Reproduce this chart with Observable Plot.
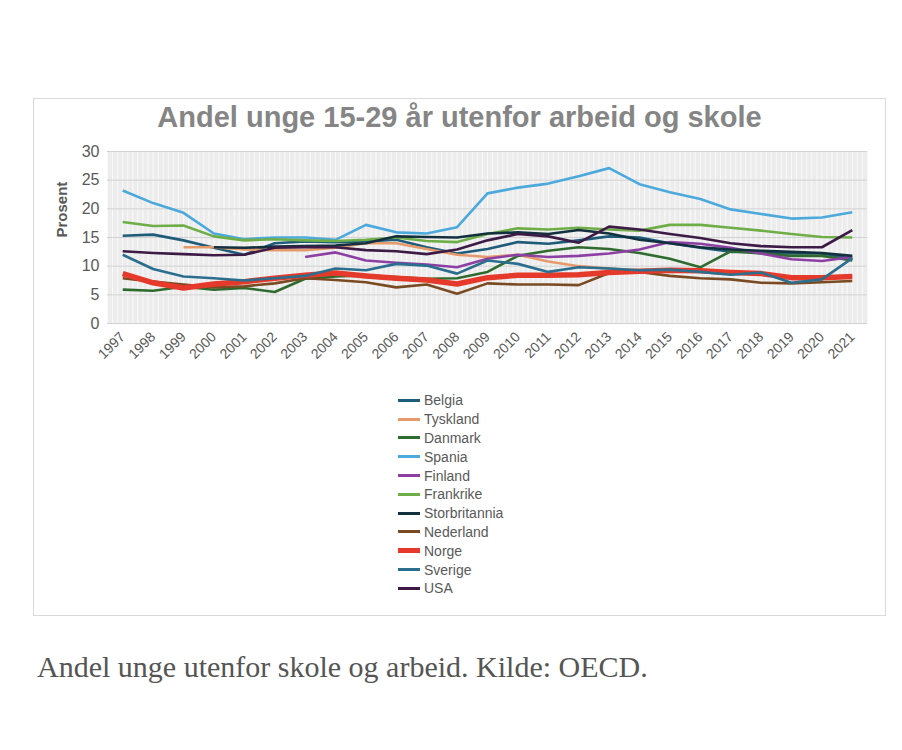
<!DOCTYPE html>
<html><head><meta charset="utf-8">
<script src="https://cdn.jsdelivr.net/npm/d3@7"></script>
<script src="https://cdn.jsdelivr.net/npm/@observablehq/plot@0.6"></script>
<style>
body{margin:0;background:#fff;width:902px;height:750px;position:relative;font-family:"Liberation Sans",Arial,sans-serif;}
#box{position:absolute;left:33px;top:98px;width:851px;height:516px;border:1px solid #dadada;}
#title{position:absolute;left:0;width:100%;top:2px;text-align:center;font-weight:bold;font-size:29px;line-height:32px;color:#858585;}
#chart{position:absolute;left:0;top:41px;}
#legend{position:absolute;left:364px;top:292px;}
.row{height:18.8px;display:flex;align-items:center;font-size:14px;color:#595959;}
.sw{width:22px;margin-right:4px;}
#caption{position:absolute;left:37px;top:650px;font-family:"Liberation Serif",serif;font-size:30px;line-height:34px;color:#555;}
</style></head>
<body>
<div id="box"><div id="title">Andel unge 15-29 år utenfor arbeid og skole</div><div id="chart"></div><div id="legend"></div></div>
<div id="caption">Andel unge utenfor skole og arbeid. Kilde: OECD.</div>
<script>
const years = d3.range(1997, 2022);
const yTicks = [0, 5, 10, 15, 20, 25, 30];
const countries = ["Belgia","Tyskland","Danmark","Spania","Finland","Frankrike","Storbritannia","Nederland","Norge","Sverige","USA"];
const colors = ["#1f5c7a","#e69a6b","#2f6b2f","#4ba9dc","#8e3fa3","#6fae47","#12303d","#7a4a22","#e53a2b","#2b6e8e","#3d1b46"];
const Belgia = [15.3,15.5,14.5,13.2,12.0,14.0,14.3,14.2,14.3,14.6,13.3,12.2,13.0,14.2,13.9,14.5,15.2,15.0,14.0,13.2,12.5,12.5,12.2,12.2,11.3];
const Tyskland = [null,null,13.3,13.3,12.9,12.8,12.8,13.2,14.0,14.0,13.0,12.0,11.6,12.0,10.8,10.0,9.6,9.3,9.0,9.2,9.0,8.6,8.1,7.9,8.3];
const Danmark = [5.9,5.7,6.4,5.9,6.2,5.5,7.8,8.2,8.4,8.1,7.8,7.9,9.0,11.8,12.7,13.3,13.0,12.3,11.3,9.8,12.6,12.2,11.8,11.8,11.0];
const Spania = [23.2,21.0,19.3,15.7,14.7,15.0,15.0,14.6,17.2,15.9,15.7,16.8,22.7,23.7,24.4,25.7,27.1,24.3,22.9,21.7,19.9,19.1,18.3,18.5,19.4];
const Finland = [null,null,null,null,null,null,11.6,12.4,11.0,10.6,10.3,9.8,11.3,12.0,11.6,11.8,12.2,12.9,14.2,13.9,13.2,12.2,11.2,10.9,11.6];
const Frankrike = [17.7,17.0,17.1,15.2,14.5,14.7,14.5,14.4,14.6,15.0,14.4,14.2,15.6,16.6,16.4,16.7,16.4,16.2,17.2,17.2,16.7,16.2,15.6,15.1,15.0];
const Storbritannia = [null,null,null,13.3,13.2,13.4,13.5,13.6,14.0,15.2,15.1,15.0,15.7,15.9,15.6,16.3,15.7,14.6,14.0,13.3,12.9,12.7,12.5,12.3,11.8];
const Nederland = [7.9,7.3,6.8,6.3,6.5,7.0,7.9,7.6,7.2,6.3,6.8,5.2,7.0,6.8,6.8,6.7,8.8,9.0,8.3,7.9,7.7,7.1,7.0,7.2,7.4];
const Norge = [8.7,7.1,6.2,6.9,7.3,7.9,8.4,8.8,8.3,7.9,7.6,6.9,8.0,8.4,8.4,8.5,8.9,9.1,9.3,9.2,8.9,8.7,8.0,8.0,8.2];
const Sverige = [12.0,9.5,8.2,7.9,7.5,7.9,8.3,9.6,9.3,10.4,10.1,8.7,11.0,10.4,9.0,9.8,9.6,9.3,9.4,9.0,8.5,8.9,7.1,7.7,11.4];
const USA = [12.6,12.3,12.1,11.9,12.0,13.2,13.3,13.3,12.8,12.6,12.1,12.9,14.5,15.6,15.2,14.1,16.9,16.4,15.6,14.9,14.0,13.5,13.3,13.3,16.3];

const series = {Belgia,Tyskland,Danmark,Spania,Finland,Frankrike,Storbritannia,Nederland,Norge,Sverige,USA};
const data = countries.flatMap(c => series[c].map((v, i) => ({country: c, year: years[i], value: v})).filter(d => d.value != null));
const fineGrid = d3.range(0, 151).map(i => 1996.5 + i / 6);

const plot = Plot.plot({
  width: 850, height: 238,
  marginLeft: 73, marginRight: 17, marginTop: 11, marginBottom: 55,
  style: {fontFamily: "Liberation Sans, Arial, sans-serif", fontSize: "13px", color: "#595959", background: "transparent"},
  x: {type: "linear", domain: [1996.5, 2021.5]},
  y: {domain: [0, 30]},
  color: {domain: countries, range: colors},
  marks: [
    Plot.frame({fill: "#ececec", stroke: null}),
    Plot.gridX({ticks: fineGrid, stroke: "#fafafa", strokeOpacity: 1}),
    Plot.gridY({ticks: yTicks, stroke: "#d2d2d2", strokeOpacity: 1}),
    Plot.axisY({ticks: yTicks, tickSize: 0, tickPadding: 8, fontSize: 16, label: null}),
    Plot.axisX({ticks: years, tickFormat: d => String(d), tickRotate: -45, tickSize: 0, tickPadding: 11, label: null, fontSize: 14}),
    Plot.text(["Prosent"], {frameAnchor: "left", dx: -45, rotate: -90, fontWeight: "bold", fontSize: 15, fill: "#595959"}),
    ...countries.map(c => Plot.line(data.filter(d => d.country === c), {
      x: "year", y: "value", stroke: "country",
      strokeWidth: c === "Norge" ? 5.5 : 2.6, strokeLinejoin: "round", strokeLinecap: "butt"
    }))
  ]
});
document.getElementById("chart").appendChild(plot);

const legend = document.getElementById("legend");
countries.forEach((c, i) => {
  const row = document.createElement("div");
  row.className = "row";
  const sw = document.createElement("div");
  sw.className = "sw";
  sw.style.height = (c === "Norge" ? 5 : 3) + "px";
  sw.style.background = colors[i];
  row.appendChild(sw);
  const t = document.createElement("span");
  t.textContent = c;
  row.appendChild(t);
  legend.appendChild(row);
});
</script>
</body></html>
